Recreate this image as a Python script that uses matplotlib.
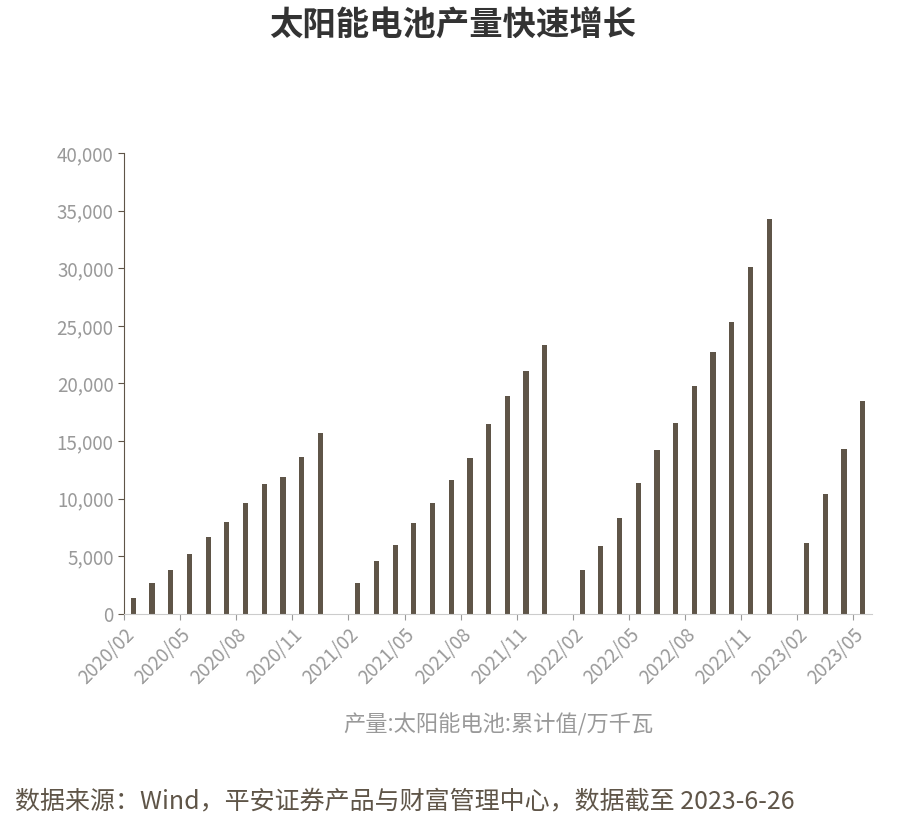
import matplotlib
matplotlib.use("Agg")
import matplotlib.pyplot as plt
import numpy as np

plt.rcParams['font.family'] = ['Noto Sans CJK SC', 'DejaVu Sans']

months = [f"{y}/{m:02d}" for y in range(2020, 2024) for m in range(1, 13)]
months = months[1:months.index("2023/05") + 1]
values = [1400, 2700, 3800, 5200, 6700, 8000, 9600, 11300, 11900, 13600, 15700,
          np.nan, 2700, 4600, 6000, 7900, 9600, 11600, 13500, 16500, 18900, 21100, 23300,
          np.nan, 3800, 5900, 8300, 11400, 14200, 16600, 19800, 22700, 25300, 30100, 34300,
          np.nan, 6200, 10400, 14300, 18500]

fig = plt.figure(figsize=(9.06, 8.26), dpi=100)
ax = fig.add_axes([0.1369, 0.2567, 0.9625 - 0.1369, 0.8148 - 0.2567])
x = np.arange(len(months))
ax.bar(x + 0.5, values, width=0.28, color='#5f5548')
ax.set_xlim(0, len(months))
ax.set_ylim(0, 40000)
ax.set_yticks(range(0, 40001, 5000))
ax.set_yticklabels([f"{v:,}" for v in range(0, 40001, 5000)])
ticks = list(range(0, len(months), 3))
ax.set_xticks(ticks)
ax.set_xticklabels([months[i] for i in ticks], rotation=45, ha='right', rotation_mode='anchor')
ax.tick_params(colors='#999999', labelsize=13.5, length=4)
ax.tick_params(axis='y', colors='#5f5548', labelcolor='#999999')
for s in ['top', 'right']:
    ax.spines[s].set_visible(False)
ax.spines['left'].set_color('#5f5548')
ax.spines['bottom'].set_color('#cccccc')
ax.set_xlabel("产量:太阳能电池:累计值/万千瓦", color='#999999', fontsize=16, labelpad=18)
fig.text(0.5, 0.97, "太阳能电池产量快速增长", ha='center', va='center', fontsize=24,
         fontweight='bold', color='#333333')
fig.text(0.017, 0.03, "数据来源：Wind，平安证券产品与财富管理中心，数据截至 2023-6-26",
         ha='left', va='center', fontsize=18, color='#5f5548')
fig.savefig("out.png", dpi=100)
